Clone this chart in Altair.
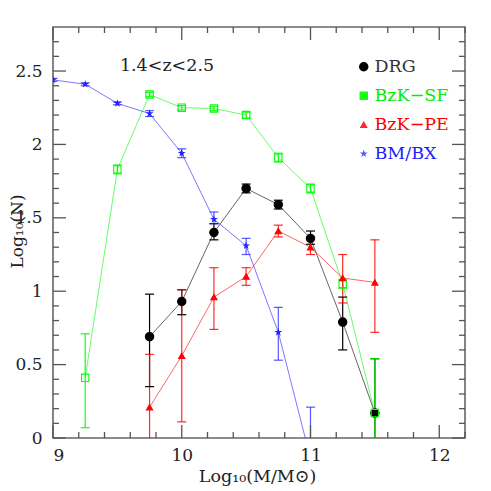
import altair as alt
import pandas as pd

# ---- data ----
series_names = ["DRG", "BzK\u2212SF", "BzK\u2212PE", "BM/BX"]

x_drg = [9.75, 10.0, 10.25, 10.5, 10.75, 11.0, 11.25, 11.5]
y_drg = [0.69, 0.93, 1.40, 1.70, 1.59, 1.36, 0.79, 0.17]
lo_drg = [0.35, 0.84, 1.35, 1.67, 1.56, 1.32, 0.60, -0.5]
hi_drg = [0.98, 1.01, 1.46, 1.73, 1.62, 1.41, 0.96, 0.54]

x_sf = [9.25, 9.5, 9.75, 10.0, 10.25, 10.5, 10.75, 11.0, 11.25, 11.5]
y_sf = [0.41, 1.83, 2.34, 2.25, 2.245, 2.20, 1.91, 1.70, 1.05, 0.17]
lo_sf = [0.07, 1.80, 2.325, 2.235, 2.23, 2.18, 1.88, 1.67, 1.02, -0.5]
hi_sf = [0.71, 1.86, 2.355, 2.265, 2.26, 2.22, 1.94, 1.73, 1.08, 0.54]

x_pe = [9.75, 10.0, 10.25, 10.5, 10.75, 11.0, 11.25, 11.5]
y_pe = [0.21, 0.56, 0.96, 1.10, 1.41, 1.30, 1.09, 1.06]
lo_pe = [-0.5, 0.11, 0.74, 1.04, 1.37, 1.25, 0.92, 0.72]
hi_pe = [0.57, 1.01, 1.16, 1.16, 1.45, 1.35, 1.25, 1.35]

x_bm = [9.0, 9.25, 9.5, 9.75, 10.0, 10.25, 10.5, 10.75, 11.0]
y_bm = [2.44, 2.41, 2.28, 2.21, 1.94, 1.49, 1.31, 0.72, -0.14]
lo_bm = [2.43, 2.40, 2.27, 2.19, 1.91, 1.46, 1.25, 0.53, -0.6]
hi_bm = [2.45, 2.42, 2.29, 2.23, 1.97, 1.54, 1.36, 0.89, 0.21]

x_major = [9, 10, 11, 12]
x_minor = [9.2, 9.4, 9.6, 9.8, 10.2, 10.4, 10.6, 10.8, 11.2, 11.4, 11.6, 11.8, 12.2]
y_major = [0, 0.5, 1.0, 1.5, 2.0, 2.5]
y_minor = [0.1, 0.2, 0.3, 0.4, 0.6, 0.7, 0.8, 0.9, 1.1, 1.2, 1.3, 1.4,
           1.6, 1.7, 1.8, 1.9, 2.1, 2.2, 2.3, 2.4, 2.6, 2.7]

# ---- tables ----
rows = []
for name, xs_, ys_, los, his in [
    (series_names[0], x_drg, y_drg, lo_drg, hi_drg),
    (series_names[1], x_sf, y_sf, lo_sf, hi_sf),
    (series_names[2], x_pe, y_pe, lo_pe, hi_pe),
    (series_names[3], x_bm, y_bm, lo_bm, hi_bm),
]:
    for i, (a, b, c, d) in enumerate(zip(xs_, ys_, los, his)):
        rows.append({"series": name, "x": a, "y": b, "lo": c, "hi": d, "i": i})
df = pd.DataFrame(rows)

W, H = 412, 411
XD = [9, 12.2]
YD = [0, 2.8]
FONT = "DejaVu Serif"

star = ("M0,-1L0.223,-0.307L0.951,-0.309L0.361,0.117L0.588,0.809L0,0.38"
        "L-0.588,0.809L-0.361,0.117L-0.951,-0.309L-0.223,-0.307Z")

stroke_scale = alt.Scale(domain=series_names,
                         range=["#000000", "#00ff00", "#ff0000", "#2020ff"])
shape_scale = alt.Scale(domain=series_names,
                        range=["circle", "square", "triangle-up", star])
fill_scale = alt.Scale(domain=series_names,
                       range=["#000000", "transparent", "#ff0000", "transparent"])
size_scale = alt.Scale(domain=series_names, range=[70, 22, 34, 45])
errop_scale = alt.Scale(domain=series_names, range=[1.0, 0.75, 0.4, 0.6])

xs = alt.Scale(domain=XD, nice=False, zero=False)
ys = alt.Scale(domain=YD, nice=False, zero=False)

label_color_expr = ("datum.label == 'DRG' ? '#333333' : datum.label == 'BzK\u2212SF' ? '#00ee00' : "
                    "datum.label == 'BzK\u2212PE' ? '#ff0000' : '#2020ff'")
symbol_fill_expr = ("datum.value == 'DRG' ? '#000000' : datum.value == 'BzK\u2212PE' ? '#ff0000' : "
                    "'transparent'")
legend = alt.Legend(title=None, orient="none", legendX=302, legendY=31,
                    labelFont=FONT, labelFontSize=17.5,
                    labelColor=alt.ExprRef(label_color_expr),
                    symbolFillColor=alt.ExprRef(symbol_fill_expr),
                    rowPadding=10, symbolOpacity=1, labelOffset=2,
                    padding=0, symbolStrokeWidth=1.1)

STROKE = alt.Stroke("series:N", scale=stroke_scale, legend=legend)

base = alt.Chart(df)

X = alt.X("x:Q", scale=xs,
          axis=alt.Axis(title="Log\u2081\u2080(M/M\u2299)", values=x_major, ticks=False,
                        domain=False, grid=False, labelFont=FONT, labelFontSize=17,
                        labelColor="#222", labelPadding=9, titleFont=FONT,
                        titleFontSize=17.5, titleFontWeight="normal", titleColor="#222",
                        titleX=204, titleY=38, titleBaseline="middle", format="d"))
Y = alt.Y("y:Q", scale=ys,
          axis=alt.Axis(title="Log\u2081\u2080(N)", values=y_major, ticks=False,
                        domain=False, grid=False, labelFont=FONT, labelFontSize=17,
                        labelColor="#222", labelPadding=11, titleFont=FONT,
                        titleFontSize=17, titleFontWeight="normal", titleColor="#222",
                        titleX=-31, titleY=204, titleBaseline="alphabetic",
                        labelExpr="datum.value == 0 ? '0' : format(datum.value, '.1f') == '1.0' ? '1' : format(datum.value, '.1f') == '2.0' ? '2' : format(datum.value, '.1f')"))

lines = base.mark_line(strokeWidth=1, opacity=0.6, clip=True).encode(
    x=X, y=Y, stroke=STROKE, detail="series:N", order="i:Q")

err = base.mark_rule(strokeWidth=1.2, clip=True).encode(
    x=alt.X("x:Q", scale=xs), y=alt.Y("lo:Q", scale=ys), y2="hi:Q",
    stroke=STROKE,
    opacity=alt.Opacity("series:N", scale=errop_scale, legend=None))
cap_hi = base.mark_tick(orient="horizontal", size=9, thickness=1.2, clip=True).encode(
    x=alt.X("x:Q", scale=xs), y=alt.Y("hi:Q", scale=ys),
    color=alt.Color("series:N", scale=stroke_scale, legend=None),
    opacity=alt.Opacity("series:N", scale=errop_scale, legend=None))
cap_lo = base.mark_tick(orient="horizontal", size=9, thickness=1.2, clip=True).encode(
    x=alt.X("x:Q", scale=xs), y=alt.Y("lo:Q", scale=ys),
    color=alt.Color("series:N", scale=stroke_scale, legend=None),
    opacity=alt.Opacity("series:N", scale=errop_scale, legend=None))

pts = base.mark_point(strokeWidth=1.1, opacity=1, clip=True).encode(
    x=alt.X("x:Q", scale=xs), y=alt.Y("y:Q", scale=ys),
    stroke=STROKE,
    shape=alt.Shape("series:N", scale=shape_scale, legend=legend),
    fill=alt.Fill("series:N", scale=fill_scale, legend=None),
    size=alt.Size("series:N", scale=size_scale, legend=legend))

# inside tick marks on all four sides
tmaj_x = pd.DataFrame({"t": x_major})
tmin_x = pd.DataFrame({"t": x_minor})
tmaj_y = pd.DataFrame({"t": y_major})
tmin_y = pd.DataFrame({"t": y_minor})
TC = "#555555"

def xticks(d, L):
    b = alt.Chart(d).mark_rule(color=TC, strokeWidth=1.3)
    return (b.encode(x=alt.X("t:Q", scale=xs), y=alt.value(H), y2=alt.value(H - L)) +
            b.encode(x=alt.X("t:Q", scale=xs), y=alt.value(0), y2=alt.value(L)))

def yticks(d, L):
    b = alt.Chart(d).mark_rule(color=TC, strokeWidth=1.3)
    return (b.encode(y=alt.Y("t:Q", scale=ys), x=alt.value(0), x2=alt.value(L)) +
            b.encode(y=alt.Y("t:Q", scale=ys), x=alt.value(W), x2=alt.value(W - L)))

note = pd.DataFrame({"txt": ["1.4<z<2.5"]})
label = alt.Chart(note).mark_text(font=FONT, fontSize=17.5, color="#222").encode(
    text="txt:N", x=alt.value(114), y=alt.value(39))

chart = alt.layer(
    lines, err, cap_hi, cap_lo, pts,
    xticks(tmaj_x, 13), xticks(tmin_x, 6), yticks(tmaj_y, 13), yticks(tmin_y, 6),
    label,
).properties(
    width=W, height=H,
    autosize=alt.AutoSizeParams(type="none"),
    padding={"left": 45, "top": 19, "right": 18, "bottom": 53},
).configure_view(stroke="#666666", strokeWidth=1.6)

chart.save("out.html", embed_options={"renderer": "svg", "actions": False})
